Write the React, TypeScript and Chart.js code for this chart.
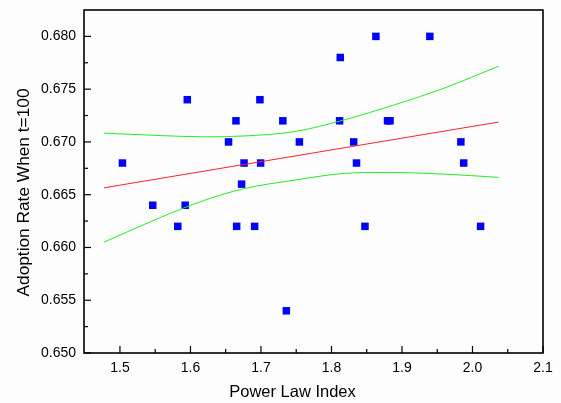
import React, { useEffect, useRef } from "react";
import { Chart, registerables } from "chart.js";

Chart.register(...registerables);

// Scatter data (Power Law Index vs Adoption Rate When t=100)
const powerIndex = [1.5035, 1.5465, 1.582, 1.5925, 1.5955, 1.654, 1.6645, 1.6655, 1.6725, 1.676, 1.691, 1.6985, 1.6995, 1.731, 1.736, 1.7545, 1.8115, 1.8125, 1.8315, 1.8355, 1.8475, 1.863, 1.8795, 1.883, 1.9395, 1.9835, 1.9875, 2.0115];
const adoptionRate = [0.668, 0.664, 0.662, 0.664, 0.674, 0.670, 0.672, 0.662, 0.666, 0.668, 0.662, 0.674, 0.668, 0.672, 0.654, 0.670, 0.672, 0.678, 0.670, 0.668, 0.662, 0.680, 0.672, 0.672, 0.680, 0.670, 0.668, 0.662];

// Linear fit (red)
const fitX = [1.4773, 2.0368];
const fitY = [0.66565, 0.67188];

// Confidence bands (green)
const upperX = [1.4773, 1.5591, 1.6204, 1.6771, 1.7479, 1.8187, 1.8895, 1.9603, 2.0368];
const upperY = [0.67083, 0.6706, 0.67048, 0.67057, 0.67098, 0.6721, 0.67352, 0.67511, 0.67717];
const lowerX = [1.4773, 1.5591, 1.6204, 1.6771, 1.7479, 1.8187, 1.8754, 1.9603, 2.0368];
const lowerY = [0.6605, 0.66289, 0.66448, 0.66559, 0.66638, 0.66702, 0.66711, 0.66695, 0.66664];

// Axes
const xMajorTicks = [1.5, 1.6, 1.7, 1.8, 1.9, 2.0, 2.1];
const xMinorTicks = [1.55, 1.65, 1.75, 1.85, 1.95, 2.05];
const yMajorTicks = [0.65, 0.655, 0.66, 0.665, 0.67, 0.675, 0.68];
const yMinorTicks = [0.6525, 0.6575, 0.6625, 0.6675, 0.6725, 0.6775];
const xRange = [1.449, 2.1];
const yRange = [0.65, 0.6825];
const xTitle = "Power Law Index";
const yTitle = "Adoption Rate When t=100";

const FONT = '"Liberation Sans", Arial, sans-serif';

const pts = (xs: number[], ys: number[]) => xs.map((x, i) => ({ x, y: ys[i] }));

const frameTicks = {
  id: "frameTicks",
  afterDraw(chart: any) {
    const { ctx, chartArea, scales } = chart;
    const { left, right, top, bottom } = chartArea;
    const x = scales.x;
    const y = scales.y;
    ctx.save();
    ctx.strokeStyle = "#000";
    ctx.lineWidth = 1.6;
    ctx.strokeRect(left, top, right - left, bottom - top);
    ctx.lineWidth = 1.2;
    const seg = (x1: number, y1: number, x2: number, y2: number) => {
      ctx.beginPath();
      ctx.moveTo(x1, y1);
      ctx.lineTo(x2, y2);
      ctx.stroke();
    };
    xMajorTicks.forEach((v) => {
      const p = x.getPixelForValue(v);
      seg(p, bottom, p, bottom - 7);
    });
    xMinorTicks.forEach((v) => {
      const p = x.getPixelForValue(v);
      seg(p, bottom, p, bottom - 4);
    });
    yMajorTicks.forEach((v) => {
      const p = y.getPixelForValue(v);
      seg(left, p, left + 7, p);
    });
    yMinorTicks.forEach((v) => {
      const p = y.getPixelForValue(v);
      seg(left, p, left + 4, p);
    });
    ctx.fillStyle = "#000";
    ctx.textAlign = "center";
    ctx.textBaseline = "middle";
    ctx.font = `16.5px ${FONT}`;
    ctx.fillText(xTitle, 292.5, 392);
    ctx.translate(24, 192.5);
    ctx.rotate(-Math.PI / 2);
    ctx.font = `17.3px ${FONT}`;
    ctx.fillText(yTitle, 0, 0);
    ctx.restore();
  },
};

const bgPlugin = {
  id: "bg",
  beforeDraw(chart: any) {
    const { ctx, width, height } = chart;
    ctx.save();
    ctx.fillStyle = "#fdfdfd";
    ctx.fillRect(0, 0, width, height);
    ctx.restore();
  },
};

export default function App() {
  const ref = useRef<HTMLCanvasElement | null>(null);
  useEffect(() => {
    if (!ref.current) return;
    const chart = new Chart(ref.current, {
      type: "scatter",
      data: {
        datasets: [
          {
            label: "upper",
            data: pts(upperX, upperY),
            showLine: true,
            borderColor: "#22ee22",
            borderWidth: 1,
            pointRadius: 0,
            cubicInterpolationMode: "monotone",
          },
          {
            label: "lower",
            data: pts(lowerX, lowerY),
            showLine: true,
            borderColor: "#22ee22",
            borderWidth: 1,
            pointRadius: 0,
            cubicInterpolationMode: "monotone",
          },
          {
            label: "fit",
            data: pts(fitX, fitY),
            showLine: true,
            borderColor: "#ff2222",
            borderWidth: 1,
            pointRadius: 0,
          },
          {
            label: "data",
            data: pts(powerIndex, adoptionRate),
            pointStyle: "rect",
            pointRadius: 5.3,
            pointBorderWidth: 0,
            backgroundColor: "#0000ff",
            borderColor: "#0000ff",
            showLine: false,
          },
        ],
      },
      options: {
        animation: false,
        responsive: false,
        devicePixelRatio: 1,
        layout: { padding: { top: 10, right: 18, left: 0, bottom: 0 } },
        plugins: { legend: { display: false }, tooltip: { enabled: false } },
        scales: {
          x: {
            type: "linear",
            min: xRange[0],
            max: xRange[1],
            afterBuildTicks: (s: any) => {
              s.ticks = xMajorTicks.map((v) => ({ value: v }));
            },
            afterFit: (s: any) => {
              s.height = 50;
              s.paddingLeft = 0;
              s.paddingRight = 0;
            },
            grid: { display: false, drawTicks: false },
            border: { display: false },
            ticks: {
              color: "#000",
              padding: 7,
              maxRotation: 0,
              font: { family: FONT, size: 14 },
              callback: (v: any) => Number(v).toFixed(1),
            },
          },
          y: {
            type: "linear",
            min: yRange[0],
            max: yRange[1],
            afterBuildTicks: (s: any) => {
              s.ticks = yMajorTicks.map((v) => ({ value: v }));
            },
            afterFit: (s: any) => {
              s.width = 84;
              s.paddingTop = 0;
              s.paddingBottom = 0;
            },
            grid: { display: false, drawTicks: false },
            border: { display: false },
            ticks: {
              color: "#000",
              padding: 8,
              font: { family: FONT, size: 14 },
              callback: (v: any) => Number(v).toFixed(3),
            },
          },
        },
      },
      plugins: [bgPlugin, frameTicks],
    });
    return () => chart.destroy();
  }, []);
  return (
    <div style={{ position: "fixed", left: 0, top: 0, width: 561, height: 403, background: "#fdfdfd" }}>
      <canvas ref={ref} width={561} height={403} style={{ display: "block" }} />
    </div>
  );
}
